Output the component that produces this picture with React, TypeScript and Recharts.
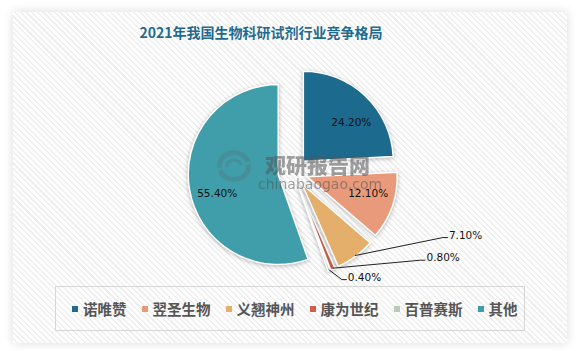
import { Cell, Pie, PieChart } from "recharts";

const names = ["诺唯赞", "翌圣生物", "义翘神州", "康为世纪", "百普赛斯", "其他"];
const shares = [24.2, 12.1, 7.1, 0.8, 0.4, 55.4];
const colors = ["#1c6a8d", "#e89a7b", "#e4af6b", "#cf5f4b", "#b9ccb5", "#3f9ea9"];

const data = names.map((name, i) => ({ name, value: shares[i] }));

const W = 579;
const H = 351;
const CX = 293;
const CY = 172;
const R = 90;
const EXPLODE = 15;
const RAD = Math.PI / 180;

// label placement: inside labels offset from the slice vertex,
// outside labels as elbow offsets from the arc point
const insideLabel: Record<number, [number, number]> = {
  0: [48, -39],
  1: [61, 16],
  5: [-61, 18],
};
const outsideLabel: Record<number, [number, number]> = {
  2: [88, -18],
  3: [88, -8],
  4: [13, 10],
};

const total = shares.reduce((a, b) => a + b, 0);
const mids = shares.map((v, i) => {
  const before = shares.slice(0, i).reduce((a, b) => a + b, 0);
  return 90 - (360 * (before + v / 2)) / total;
});

function makeLabel(slice: number) {
  return (p: any) => {
    if (p.index !== slice) return null;
    const txt = `${shares[slice].toFixed(2)}%`;
    if (insideLabel[slice]) {
      const [dx, dy] = insideLabel[slice];
      return (
        <text
          x={p.cx + dx}
          y={p.cy + dy}
          textAnchor="middle"
          dominantBaseline="central"
          fontFamily="DejaVu Sans"
          fontSize={10.5}
          fill="#111"
        >
          {txt}
        </text>
      );
    }
    const [dx, dy] = outsideLabel[slice];
    const sx = p.cx + (p.outerRadius - 1) * Math.cos(-p.midAngle * RAD);
    const sy = p.cy + (p.outerRadius - 1) * Math.sin(-p.midAngle * RAD);
    const ex = sx + dx;
    const ey = sy + dy;
    return (
      <g>
        <polyline
          points={`${sx},${sy} ${ex},${ey} ${ex + 5},${ey}`}
          fill="none"
          stroke="#222"
          strokeWidth={1}
        />
        <text
          x={ex + 6}
          y={ey - 3}
          dominantBaseline="central"
          fontFamily="DejaVu Sans"
          fontSize={10.5}
          fill="#111"
        >
          {txt}
        </text>
      </g>
    );
  };
}

export default function App() {
  return (
    <div style={{ position: "absolute", left: 0, top: 0, width: W, height: H, background: "#fff" }}>
      <style>{`.recharts-sector { filter: drop-shadow(0px 1px 2px rgba(0,0,0,0.28)); }`}</style>
      <div
        style={{
          position: "absolute",
          left: 13,
          top: 12,
          width: 554,
          height: 331,
          boxShadow: "0 0 10px rgba(0,0,0,0.14)",
          background:
            "repeating-linear-gradient(45deg, #ffffff 0px, #ffffff 2.5px, #efefef 2.5px, #efefef 4px)",
        }}
      />
      <div
        style={{
          position: "absolute",
          left: 0,
          width: 522,
          top: 22,
          textAlign: "center",
          fontFamily: "'Noto Sans CJK SC'",
          fontWeight: 700,
          fontSize: 14,
          color: "#1f6a8e",
          lineHeight: "20px",
        }}
      >
        2021年我国生物科研试剂行业竞争格局
      </div>
      <div style={{ position: "absolute", left: 0, top: 0 }}>
        <PieChart width={W} height={H} margin={{ top: 0, right: 0, bottom: 0, left: 0 }}>
          {shares.map((_, slice) => (
            <Pie
              key={slice}
              data={data}
              dataKey="value"
              nameKey="name"
              cx={CX + EXPLODE * Math.cos(mids[slice] * RAD)}
              cy={CY - EXPLODE * Math.sin(mids[slice] * RAD)}
              outerRadius={R}
              startAngle={90}
              endAngle={-270}
              label={makeLabel(slice)}
              labelLine={false}
              isAnimationActive={false}
            >
              {data.map((d, i) => (
                <Cell
                  key={d.name}
                  fill={i === slice ? colors[i] : "transparent"}
                  stroke={i === slice ? "#fff" : "none"}
                  strokeWidth={1.5}
                />
              ))}
            </Pie>
          ))}
        </PieChart>
      </div>
      <svg
        width={40}
        height={36}
        style={{ position: "absolute", left: 214, top: 148, opacity: 0.45, pointerEvents: "none" }}
      >
        <path d="M6 20 A14 12 0 0 1 34 14" fill="none" stroke="#4f7f88" strokeWidth={5} />
        <path d="M34 16 A14 12 0 0 1 6 22" fill="none" stroke="#4f7f88" strokeWidth={5} />
        <path d="M13 19 A7 6 0 0 1 27 17" fill="none" stroke="#4f7f88" strokeWidth={3} />
      </svg>
      <div
        style={{
          position: "absolute",
          left: 258,
          top: 152,
          opacity: 0.55,
          color: "#555",
          pointerEvents: "none",
          fontFamily: "'Noto Sans CJK SC'",
        }}
      >
        <div style={{ fontSize: 21, fontWeight: 900, lineHeight: "24px", marginLeft: 7 }}>观研报告网</div>
        <div style={{ fontSize: 14, fontFamily: "'DejaVu Sans'", lineHeight: "16px" }}>chinabaogao.com</div>
      </div>
      <div
        style={{
          position: "absolute",
          left: 55,
          top: 286,
          width: 470,
          height: 45,
          border: "1px solid #d6d6d6",
          display: "flex",
          alignItems: "center",
          paddingLeft: 16,
          boxSizing: "border-box",
          gap: 15,
        }}
      >
        {names.map((n, i) => (
          <div key={n} style={{ display: "flex", alignItems: "center", gap: 5 }}>
            <span style={{ width: 6, height: 6, background: colors[i], display: "inline-block" }} />
            <span
              style={{
                fontFamily: "'Noto Sans CJK SC'",
                fontWeight: 700,
                fontSize: 14.5,
                color: "#555",
                lineHeight: "18px",
              }}
            >
              {n}
            </span>
          </div>
        ))}
      </div>
    </div>
  );
}
